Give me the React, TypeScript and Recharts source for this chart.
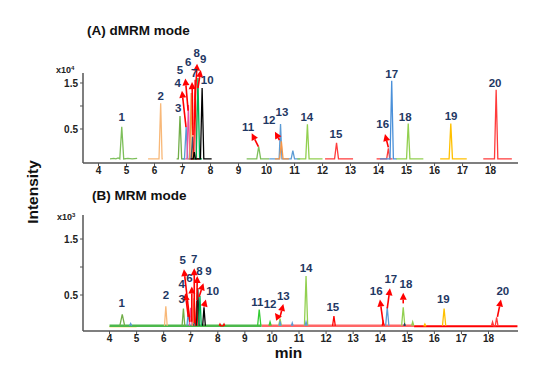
import React from "react";
import {LineChart, Line, XAxis, YAxis, ReferenceDot, ReferenceLine} from "recharts";

// retention time (min) vs intensity
// panel A: intensity in x10^4, panel B: intensity in x10^3

const ticksX = [4, 5, 6, 7, 8, 9, 10, 11, 12, 13, 14, 15, 16, 17, 18];
const ticksY = [0.5, 1.0, 1.5];

type Trace = {color: string; width?: number; pts: number[][]};
type PeakLabel = {n: string; t: number; v: number};
type Arrow = {from: number[]; to: number[]};

const tracesA: Trace[] = [
    {color: "#7DBF5A", pts: [[4.41, -0.15], [4.55, -0.14], [4.62, -0.15], [4.7, -0.13], [4.76, -0.15], [4.83, 0.55], [4.9, -0.15], [5.05, -0.14], [5.2, -0.15], [5.38, -0.14]]},
    {color: "#F8B878", pts: [[5.77, -0.15], [6.16, -0.15], [6.22, 1.06], [6.27, -0.15], [6.3, -0.15]]},
    {color: "#70AD47", pts: [[6.79, -0.15], [6.85, -0.15], [6.91, 0.78], [6.97, -0.15], [7.1, -0.15]]},
    {color: "#5B9BD5", pts: [[7.0, -0.15], [7.07, -0.15], [7.13, 0.54], [7.19, -0.15], [7.3, -0.15]]},
    {color: "#EC4FA0", pts: [[7.1, -0.15], [7.16, -0.15], [7.21, 1.02], [7.26, -0.15], [7.35, -0.15]]},
    {color: "#F79646", pts: [[7.2, -0.15], [7.26, -0.15], [7.31, 1.28], [7.36, -0.15], [7.45, -0.15]]},
    {color: "#44546A", pts: [[7.25, -0.15], [7.31, -0.15], [7.36, 0.33], [7.41, -0.15], [7.5, -0.15]]},
    {color: "#FF0000", pts: [[7.3, -0.15], [7.4, -0.15], [7.45, 1.57], [7.5, -0.15], [7.6, -0.15]]},
    {color: "#00B050", pts: [[7.4, -0.15], [7.49, -0.15], [7.55, 1.61], [7.61, -0.15], [7.7, -0.15]]},
    {color: "#000000", pts: [[7.3, -0.15], [7.38, -0.15], [7.42, 0.0], [7.46, -0.15], [7.64, -0.15], [7.7, 1.39], [7.76, -0.15], [8.04, -0.15]]},
    {color: "#7DBF5A", pts: [[9.29, -0.15], [9.65, -0.15], [9.72, 0.12], [9.79, -0.15], [10.1, -0.15]]},
    {color: "#5B9BD5", pts: [[10.1, -0.15], [10.45, -0.15], [10.5, 0.61], [10.55, -0.15], [10.88, -0.15], [10.94, 0.03], [11.0, -0.15], [11.2, -0.15]]},
    {color: "#F79646", pts: [[10.3, -0.15], [10.47, -0.15], [10.53, 0.23], [10.59, -0.15], [10.8, -0.15]]},
    {color: "#92D050", pts: [[11.1, -0.15], [11.4, -0.15], [11.46, 0.6], [11.52, -0.15], [12.0, -0.15]]},
    {color: "#FF3B3B", pts: [[12.09, -0.15], [12.43, -0.15], [12.5, 0.2], [12.57, -0.15], [13.09, -0.15]]},
    {color: "#FF3B3B", pts: [[13.93, -0.15], [14.29, -0.15], [14.35, 0.08], [14.4, -0.15], [14.5, -0.15]]},
    {color: "#4A90D9", pts: [[14.05, -0.15], [14.41, -0.15], [14.47, 1.55], [14.53, -0.15], [14.65, -0.15]]},
    {color: "#92D050", pts: [[14.63, -0.15], [15.0, -0.15], [15.06, 0.62], [15.12, -0.15], [15.6, -0.15]]},
    {color: "#FFC000", pts: [[16.2, -0.15], [16.52, -0.15], [16.58, 0.62], [16.64, -0.15], [17.15, -0.15]]},
    {color: "#FF3B3B", pts: [[17.74, -0.15], [18.14, -0.15], [18.2, 1.35], [18.26, -0.15], [18.76, -0.15]]},
];

const labelsA: PeakLabel[] = [
    {n: "1", t: 4.83, v: 0.75}, {n: "2", t: 6.22, v: 1.22}, {n: "3", t: 6.85, v: 0.96},
    {n: "4", t: 6.83, v: 1.5}, {n: "5", t: 6.91, v: 1.78}, {n: "6", t: 7.2, v: 1.96},
    {n: "7", t: 7.42, v: 1.72}, {n: "8", t: 7.51, v: 2.15}, {n: "9", t: 7.74, v: 2.02},
    {n: "10", t: 7.88, v: 1.57}, {n: "11", t: 9.34, v: 0.54}, {n: "12", t: 10.09, v: 0.7},
    {n: "13", t: 10.55, v: 0.87}, {n: "14", t: 11.44, v: 0.77}, {n: "15", t: 12.48, v: 0.39},
    {n: "16", t: 14.15, v: 0.61}, {n: "17", t: 14.47, v: 1.7}, {n: "18", t: 14.95, v: 0.76},
    {n: "19", t: 16.59, v: 0.78}, {n: "20", t: 18.16, v: 1.49},
];

const arrowsA: Arrow[] = [
    {from: [7.125, 0.54], to: [6.98, 1.33]},
    {from: [7.2, 0.9], to: [7.1, 1.6]},
    {from: [7.375, 0.37], to: [7.34, 1.52]},
    {from: [7.45, 1.13], to: [7.52, 1.92]},
    {from: [7.55, 1.39], to: [7.65, 1.78]},
    {from: [9.71, 0.115], to: [9.47, 0.41]},
    {from: [10.46, 0.26], to: [10.3, 0.44]},
    {from: [14.35, 0.1], to: [14.23, 0.39]},
];

const tracesB: Trace[] = [
    {color: "#FFC000", width: 1.2, pts: [[4.0, -0.065], [5.0, -0.065]]},
    {color: "#4CB84C", width: 2.5, pts: [[4.0, -0.05], [9.62, -0.05]]},
    {color: "#FF6666", width: 2.5, pts: [[9.62, -0.05], [15.25, -0.05]]},
    {color: "#FF0000", width: 2, pts: [[15.25, -0.06], [19.07, -0.06]]},
    {color: "#70AD47", pts: [[4.38, -0.05], [4.47, 0.155], [4.56, -0.05]]},
    {color: "#5B9BD5", pts: [[4.74, -0.05], [4.78, -0.01], [4.82, -0.05]]},
    {color: "#F8B878", pts: [[6.03, -0.05], [6.08, 0.3], [6.13, -0.05]]},
    {color: "#70AD47", pts: [[6.68, -0.05], [6.73, 0.26], [6.78, -0.05]]},
    {color: "#5B9BD5", pts: [[6.86, -0.05], [6.91, 0.2], [6.96, -0.05]]},
    {color: "#EC4FA0", pts: [[6.95, -0.05], [7.0, 0.27], [7.05, -0.05]]},
    {color: "#F79646", pts: [[7.07, -0.05], [7.12, 0.44], [7.17, -0.05]]},
    {color: "#44546A", pts: [[7.1, -0.05], [7.15, 0.03], [7.2, -0.05]]},
    {color: "#FF0000", pts: [[7.17, -0.05], [7.22, 0.4], [7.27, -0.05]]},
    {color: "#1A1A1A", pts: [[7.21, -0.05], [7.26, 0.62], [7.31, -0.05]]},
    {color: "#00B050", pts: [[7.29, -0.05], [7.34, 0.48], [7.39, -0.05]]},
    {color: "#000000", pts: [[7.44, -0.05], [7.49, 0.28], [7.54, -0.05]]},
    {color: "#FF0000", pts: [[8.05, -0.05], [8.08, -0.02], [8.11, -0.05], [8.2, -0.05], [8.23, -0.02], [8.26, -0.05]]},
    {color: "#33CC33", pts: [[9.47, -0.05], [9.53, 0.24], [9.59, -0.05]]},
    {color: "#33CC33", pts: [[9.89, -0.05], [9.93, 0.02], [9.97, -0.05]]},
    {color: "#92D050", pts: [[10.25, -0.05], [10.3, 0.08], [10.35, -0.05]]},
    {color: "#5B9BD5", pts: [[10.27, -0.05], [10.3, 0.03], [10.33, -0.05]]},
    {color: "#5B9BD5", pts: [[10.72, -0.05], [10.75, 0.0], [10.78, -0.05]]},
    {color: "#92D050", pts: [[11.2, -0.05], [11.26, 0.84], [11.32, -0.05]]},
    {color: "#5B9BD5", pts: [[11.22, -0.05], [11.26, 0.02], [11.3, -0.05]]},
    {color: "#FF0000", pts: [[12.24, -0.05], [12.29, 0.125], [12.34, -0.05]]},
    {color: "#FF0000", pts: [[14.07, -0.05], [14.11, 0.02], [14.15, -0.05]]},
    {color: "#5B9BD5", pts: [[14.2, -0.05], [14.26, 0.28], [14.32, -0.05]]},
    {color: "#92D050", pts: [[14.79, -0.05], [14.85, 0.28], [14.91, -0.05]]},
    {color: "#1F3864", pts: [[14.87, -0.05], [14.9, -0.02], [14.93, -0.05]]},
    {color: "#92D050", pts: [[15.16, -0.05], [15.2, 0.02], [15.24, -0.05]]},
    {color: "#FFC000", pts: [[15.61, -0.06], [15.65, -0.02], [15.69, -0.06]]},
    {color: "#FFC000", pts: [[16.3, -0.05], [16.36, 0.26], [16.42, -0.05]]},
    {color: "#FF3B3B", pts: [[18.11, -0.05], [18.15, 0.02], [18.19, -0.05], [18.25, -0.05], [18.3, 0.1], [18.35, -0.05]]},
];

const labelsB: PeakLabel[] = [
    {n: "1", t: 4.45, v: 0.36}, {n: "2", t: 6.08, v: 0.5}, {n: "3", t: 6.67, v: 0.42},
    {n: "4", t: 6.67, v: 0.69}, {n: "5", t: 6.7, v: 1.125}, {n: "6", t: 6.95, v: 0.8},
    {n: "7", t: 7.13, v: 1.14}, {n: "8", t: 7.32, v: 0.92}, {n: "9", t: 7.65, v: 0.92},
    {n: "10", t: 7.81, v: 0.58}, {n: "11", t: 9.46, v: 0.38}, {n: "12", t: 9.93, v: 0.34},
    {n: "13", t: 10.42, v: 0.48}, {n: "14", t: 11.26, v: 0.99}, {n: "15", t: 12.25, v: 0.28},
    {n: "16", t: 13.85, v: 0.57}, {n: "17", t: 14.39, v: 0.78}, {n: "18", t: 14.95, v: 0.7},
    {n: "19", t: 16.33, v: 0.42}, {n: "20", t: 18.53, v: 0.58},
];

const arrowsB: Arrow[] = [
    {from: [6.91, 0.11], to: [6.8, 0.53]},
    {from: [6.97, 0.02], to: [6.75, 0.96]},
    {from: [7.04, 0.02], to: [7.04, 0.65]},
    {from: [7.13, 0.0], to: [7.13, 0.98]},
    {from: [7.23, 0.41], to: [7.24, 0.84]},
    {from: [7.31, 0.47], to: [7.47, 0.71]},
    {from: [7.49, 0.29], to: [7.56, 0.42]},
    {from: [10.26, 0.08], to: [10.11, 0.18]},
    {from: [10.3, 0.11], to: [10.42, 0.34]},
    {from: [14.11, 0.0], to: [13.99, 0.42]},
    {from: [14.26, 0.26], to: [14.36, 0.62]},
    {from: [14.85, 0.35], to: [14.85, 0.54]},
    {from: [18.33, 0.11], to: [18.46, 0.42]},
];

const FONT = "'Liberation Sans', Arial, sans-serif";
const AXIS = "#555555";
const NAVY = "#1F3864";

const ArrowShape = (p: any) => {
    const {x1, y1, x2, y2} = p;
    const a = Math.atan2(y2 - y1, x2 - x1);
    const len = 7, hw = 3.5;
    const bx = x2 - len * Math.cos(a), by = y2 - len * Math.sin(a);
    const px = -Math.sin(a) * hw, py = Math.cos(a) * hw;
    return (
        <g>
            <line x1={x1} y1={y1} x2={bx} y2={by} stroke="#FF0000" strokeWidth={1.6}/>
            <polygon points={`${x2},${y2} ${bx + px},${by + py} ${bx - px},${by - py}`} fill="#FF0000"/>
        </g>
    );
};

const PeakText = (n: string) => (p: any) => (
    <text x={p.cx} y={p.cy} textAnchor="middle" dominantBaseline="central"
          fontFamily={FONT} fontWeight="bold" fontSize={11.5} fill={NAVY}>{n}</text>
);

interface PanelProps {
    traces: Trace[];
    labels: PeakLabel[];
    arrows: Arrow[];
    domainX: number[];
    domainY: number[];
    top: number;
    bottom: number;
}

const Panel = ({traces, labels, arrows, domainX, domainY, top, bottom}: PanelProps) => (
    <div style={{position: "absolute", left: 0, top: 0}}>
        <LineChart width={550} height={372} margin={{top, right: 32, bottom: 372 - bottom - 30, left: 23}}>
            <XAxis type="number" dataKey="t" domain={domainX} ticks={ticksX} interval={0} allowDataOverflow
                   height={30} tickSize={3} tickMargin={1}
                   tick={{fontSize: 10, fontWeight: "bold", fill: "#222", fontFamily: FONT}}
                   axisLine={{stroke: AXIS, strokeWidth: 1.5}} tickLine={{stroke: AXIS}}/>
            <YAxis type="number" dataKey="v" domain={domainY} ticks={ticksY} allowDataOverflow width={60}
                   tickSize={3} tickMargin={2} tickFormatter={(v: number) => (v === 1 ? "" : v.toFixed(1))}
                   tick={{fontSize: 10, fontWeight: "bold", fill: "#222", fontFamily: FONT}}
                   axisLine={{stroke: AXIS, strokeWidth: 1.5}} tickLine={{stroke: AXIS}}/>
            {traces.map((tr, i) => (
                <Line key={i} data={tr.pts.map(([t, v]) => ({t, v}))} dataKey="v" type="linear"
                      stroke={tr.color} strokeWidth={tr.width ?? 1.3} dot={false} activeDot={false}
                      isAnimationActive={false}/>
            ))}
            {arrows.map((a, i) => (
                <ReferenceLine key={"a" + i} ifOverflow="visible"
                               segment={[{x: a.from[0], y: a.from[1]}, {x: a.to[0], y: a.to[1]}]}
                               shape={ArrowShape}/>
            ))}
            {labels.map((l) => (
                <ReferenceDot key={"l" + l.n} x={l.t} y={l.v} r={0} ifOverflow="visible" shape={PeakText(l.n)}/>
            ))}
        </LineChart>
    </div>
);

export default function App() {
    return (
        <div style={{position: "absolute", left: 0, top: 0, width: 550, height: 372, background: "#fff"}}>
            <Panel traces={tracesA} labels={labelsA} arrows={arrowsA} domainX={[3.446, 18.98]}
                   domainY={[-0.239, 1.717]} top={73} bottom={163}/>
            <Panel traces={tracesB} labels={labelsB} arrows={arrowsB} domainX={[3.02, 19.09]}
                   domainY={[-0.143, 1.929]} top={215} bottom={331}/>
            <svg width={550} height={372} style={{position: "absolute", left: 0, top: 0, pointerEvents: "none"}}
                 fontFamily={FONT} fontWeight="bold">
                <text x={87} y={35} fontSize={13.5} fill="#111">(A) dMRM mode</text>
                <text x={92} y={200} fontSize={13.5} fill="#111">(B) MRM mode</text>
                <text x={56} y={73} fontSize={9} fill="#222">x10<tspan fontSize={6} dy={-3}>4</tspan></text>
                <text x={57} y={220} fontSize={9} fill="#222">x10<tspan fontSize={6} dy={-3}>3</tspan></text>
                <text transform="translate(38,192) rotate(-90)" textAnchor="middle" fontSize={15.5} fill="#111">Intensity</text>
                <text x={288.5} y={358} textAnchor="middle" fontSize={15.5} fill="#111">min</text>
            </svg>
        </div>
    );
}
